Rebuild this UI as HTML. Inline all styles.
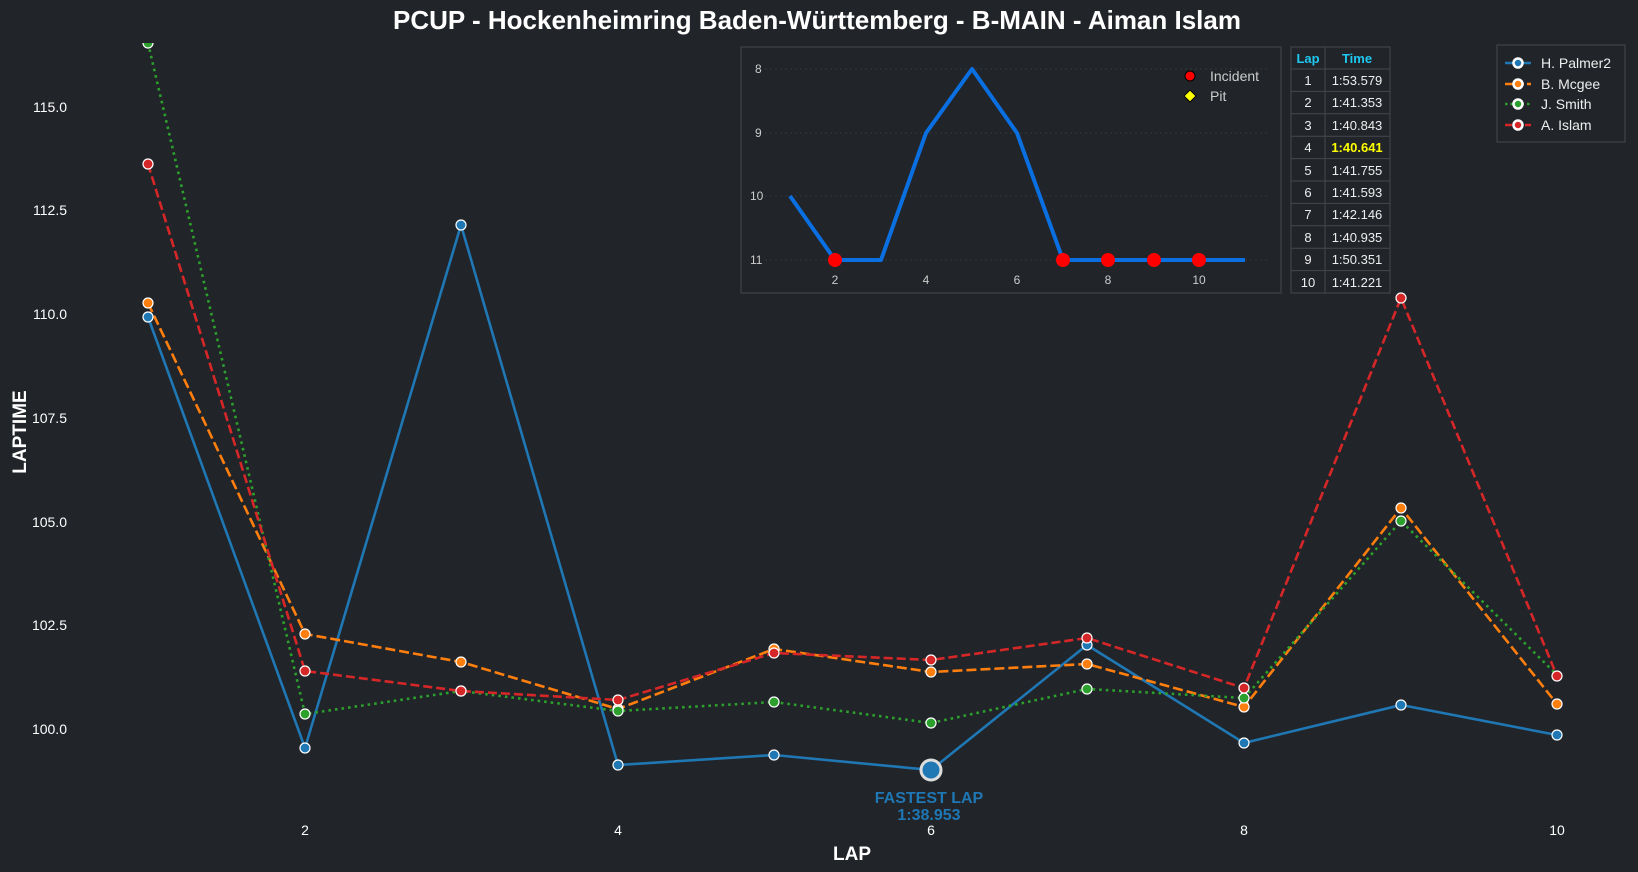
<!DOCTYPE html>
<html><head><meta charset="utf-8"><style>
html,body{margin:0;padding:0;background:#212429;}
svg{display:block;font-family:"Liberation Sans",Arial,sans-serif;}
</style></head><body>
<svg width="1638" height="872" viewBox="0 0 1638 872" xmlns="http://www.w3.org/2000/svg">
<rect width="1638" height="872" fill="#212429"/>
<text x="817" y="29" fill="#fff" font-size="26" font-weight="bold" text-anchor="middle">PCUP - Hockenheimring Baden-Württemberg - B-MAIN - Aiman Islam</text>
<g fill="#fff" font-size="14" text-anchor="end">
<text x="67" y="112">115.0</text><text x="67" y="215">112.5</text><text x="67" y="319">110.0</text>
<text x="67" y="423">107.5</text><text x="67" y="527">105.0</text><text x="67" y="630">102.5</text><text x="67" y="734">100.0</text>
</g>
<g fill="#fff" font-size="14" text-anchor="middle">
<text x="305" y="835">2</text><text x="618" y="835">4</text><text x="931" y="835">6</text><text x="1244" y="835">8</text><text x="1557" y="835">10</text>
</g>
<text x="852" y="860" fill="#fff" font-size="19" font-weight="bold" text-anchor="middle">LAP</text>
<text transform="translate(26,432) rotate(-90)" fill="#fff" font-size="19" font-weight="bold" text-anchor="middle">LAPTIME</text>
<defs><clipPath id="c"><rect x="80" y="43" width="1560" height="800"/></clipPath></defs>
<g clip-path="url(#c)" stroke-width="2.6" fill="none">
<polyline stroke="#1f77b4" points="148,317 305,748 461,225 618,765 774,755 931,770 1087,645 1244,743 1401,705 1557,735"/>
<polyline stroke="#ff7f0e" stroke-dasharray="10,4" points="148,303 305,634 461,662 618,709 774,649 931,672 1087,664 1244,707 1401,508 1557,704"/>
<polyline stroke="#2ca02c" stroke-dasharray="2.6,4" points="148,43 305,714 461,691 618,711 774,702 931,723 1087,689 1244,698 1401,521 1557,675"/>
<polyline stroke="#d62728" stroke-dasharray="9,4" points="148,164 305,671 461,691 618,700 774,653 931,660 1087,638 1244,688 1401,298 1557,676"/>
<g stroke="#fff" stroke-width="1.2">
<g fill="#1f77b4"><circle cx="148" cy="317" r="5"/><circle cx="305" cy="748" r="5"/><circle cx="461" cy="225" r="5"/><circle cx="618" cy="765" r="5"/><circle cx="774" cy="755" r="5"/><circle cx="1087" cy="645" r="5"/><circle cx="1244" cy="743" r="5"/><circle cx="1401" cy="705" r="5"/><circle cx="1557" cy="735" r="5"/></g>
<g fill="#ff7f0e"><circle cx="148" cy="303" r="5"/><circle cx="305" cy="634" r="5"/><circle cx="461" cy="662" r="5"/><circle cx="618" cy="709" r="5"/><circle cx="774" cy="649" r="5"/><circle cx="931" cy="672" r="5"/><circle cx="1087" cy="664" r="5"/><circle cx="1244" cy="707" r="5"/><circle cx="1401" cy="508" r="5"/><circle cx="1557" cy="704" r="5"/></g>
<g fill="#2ca02c"><circle cx="148" cy="43" r="5"/><circle cx="305" cy="714" r="5"/><circle cx="461" cy="691" r="5"/><circle cx="618" cy="711" r="5"/><circle cx="774" cy="702" r="5"/><circle cx="931" cy="723" r="5"/><circle cx="1087" cy="689" r="5"/><circle cx="1244" cy="698" r="5"/><circle cx="1401" cy="521" r="5"/></g>
<g fill="#d62728"><circle cx="148" cy="164" r="5"/><circle cx="305" cy="671" r="5"/><circle cx="461" cy="691" r="5"/><circle cx="618" cy="700" r="5"/><circle cx="774" cy="653" r="5"/><circle cx="931" cy="660" r="5"/><circle cx="1087" cy="638" r="5"/><circle cx="1244" cy="688" r="5"/><circle cx="1401" cy="298" r="5"/><circle cx="1557" cy="676" r="5"/></g>
</g>
<circle cx="931" cy="770" r="10" fill="#1f77b4" stroke="#ddd" stroke-width="3"/>
</g>
<text x="929" y="803" fill="#1f77b4" font-size="16" font-weight="bold" text-anchor="middle">FASTEST LAP</text>
<text x="929" y="820" fill="#1f77b4" font-size="16" font-weight="bold" text-anchor="middle">1:38.953</text>
<!-- inset -->
<rect x="741" y="47" width="540" height="246" fill="#212429" stroke="#3a3d42" stroke-width="1.5"/>
<g stroke="#33363b" stroke-dasharray="2,3" stroke-width="1"><line x1="765" x2="1267" y1="69" y2="69"/><line x1="765" x2="1267" y1="133" y2="133"/><line x1="765" x2="1267" y1="196" y2="196"/><line x1="765" x2="1267" y1="260" y2="260"/></g>
<g fill="#ccc" font-size="12"><text x="755" y="73">8</text><text x="755" y="137">9</text><text x="750" y="200">10</text><text x="750" y="264">11</text></g>
<g fill="#ccc" font-size="12" text-anchor="middle"><text x="835" y="284">2</text><text x="926" y="284">4</text><text x="1017" y="284">6</text><text x="1108" y="284">8</text><text x="1199" y="284">10</text></g>
<polyline fill="none" stroke="#0a6fe0" stroke-width="4" stroke-linejoin="round" points="790,196 835,260 881,260 926,133 972,69 1017,133 1063,260 1108,260 1154,260 1199,260 1245,260"/>
<g fill="#f00"><circle cx="835" cy="260" r="7"/><circle cx="1063" cy="260" r="7"/><circle cx="1108" cy="260" r="7"/><circle cx="1154" cy="260" r="7"/><circle cx="1199" cy="260" r="7"/></g>
<circle cx="1190" cy="76" r="5" fill="#f00" stroke="#000"/>
<polygon points="1190,90 1196,96 1190,102 1184,96" fill="#ff0" stroke="#000"/>
<g fill="#ccc" font-size="14"><text x="1210" y="81">Incident</text><text x="1210" y="101">Pit</text></g>
<!-- table -->
<g stroke="#45484d" stroke-width="1" fill="none">
<rect x="1291" y="47" width="99" height="246"/>
<line x1="1325" x2="1325" y1="47" y2="293"/>
<line x1="1291" x2="1390" y1="69" y2="69"/><line x1="1291" x2="1390" y1="91.4" y2="91.4"/><line x1="1291" x2="1390" y1="113.8" y2="113.8"/><line x1="1291" x2="1390" y1="136.2" y2="136.2"/><line x1="1291" x2="1390" y1="158.6" y2="158.6"/><line x1="1291" x2="1390" y1="181" y2="181"/><line x1="1291" x2="1390" y1="203.4" y2="203.4"/><line x1="1291" x2="1390" y1="225.8" y2="225.8"/><line x1="1291" x2="1390" y1="248.2" y2="248.2"/><line x1="1291" x2="1390" y1="270.6" y2="270.6"/>
</g>
<g font-size="13" text-anchor="middle" fill="#eee">
<text x="1308" y="63" fill="#1ec8f0" font-weight="bold">Lap</text><text x="1357" y="63" fill="#1ec8f0" font-weight="bold">Time</text>
<text x="1308" y="85">1</text><text x="1357" y="85">1:53.579</text>
<text x="1308" y="107">2</text><text x="1357" y="107">1:41.353</text>
<text x="1308" y="130">3</text><text x="1357" y="130">1:40.843</text>
<text x="1308" y="152">4</text><text x="1357" y="152" fill="#ff0" font-weight="bold">1:40.641</text>
<text x="1308" y="175">5</text><text x="1357" y="175">1:41.755</text>
<text x="1308" y="197">6</text><text x="1357" y="197">1:41.593</text>
<text x="1308" y="219">7</text><text x="1357" y="219">1:42.146</text>
<text x="1308" y="242">8</text><text x="1357" y="242">1:40.935</text>
<text x="1308" y="264">9</text><text x="1357" y="264">1:50.351</text>
<text x="1308" y="287">10</text><text x="1357" y="287">1:41.221</text>
</g>
<!-- legend -->
<rect x="1497" y="45" width="128" height="97" fill="#212429" stroke="#45484d"/>
<g stroke-width="2.5">
<line x1="1505" x2="1531" y1="63" y2="63" stroke="#1f77b4"/><circle cx="1518" cy="63" r="4.5" fill="#1f77b4" stroke="#fff"/>
<line x1="1505" x2="1531" y1="84" y2="84" stroke="#ff7f0e" stroke-dasharray="8,3"/><circle cx="1518" cy="84" r="4.5" fill="#ff7f0e" stroke="#fff"/>
<line x1="1505" x2="1531" y1="104" y2="104" stroke="#2ca02c" stroke-dasharray="2.5,3"/><circle cx="1518" cy="104" r="4.5" fill="#2ca02c" stroke="#fff"/>
<line x1="1505" x2="1531" y1="125" y2="125" stroke="#d62728" stroke-dasharray="7,3"/><circle cx="1518" cy="125" r="4.5" fill="#d62728" stroke="#fff"/>
</g>
<g fill="#eee" font-size="14"><text x="1541" y="68">H. Palmer2</text><text x="1541" y="89">B. Mcgee</text><text x="1541" y="109">J. Smith</text><text x="1541" y="130">A. Islam</text></g>
</svg>
</body></html>
